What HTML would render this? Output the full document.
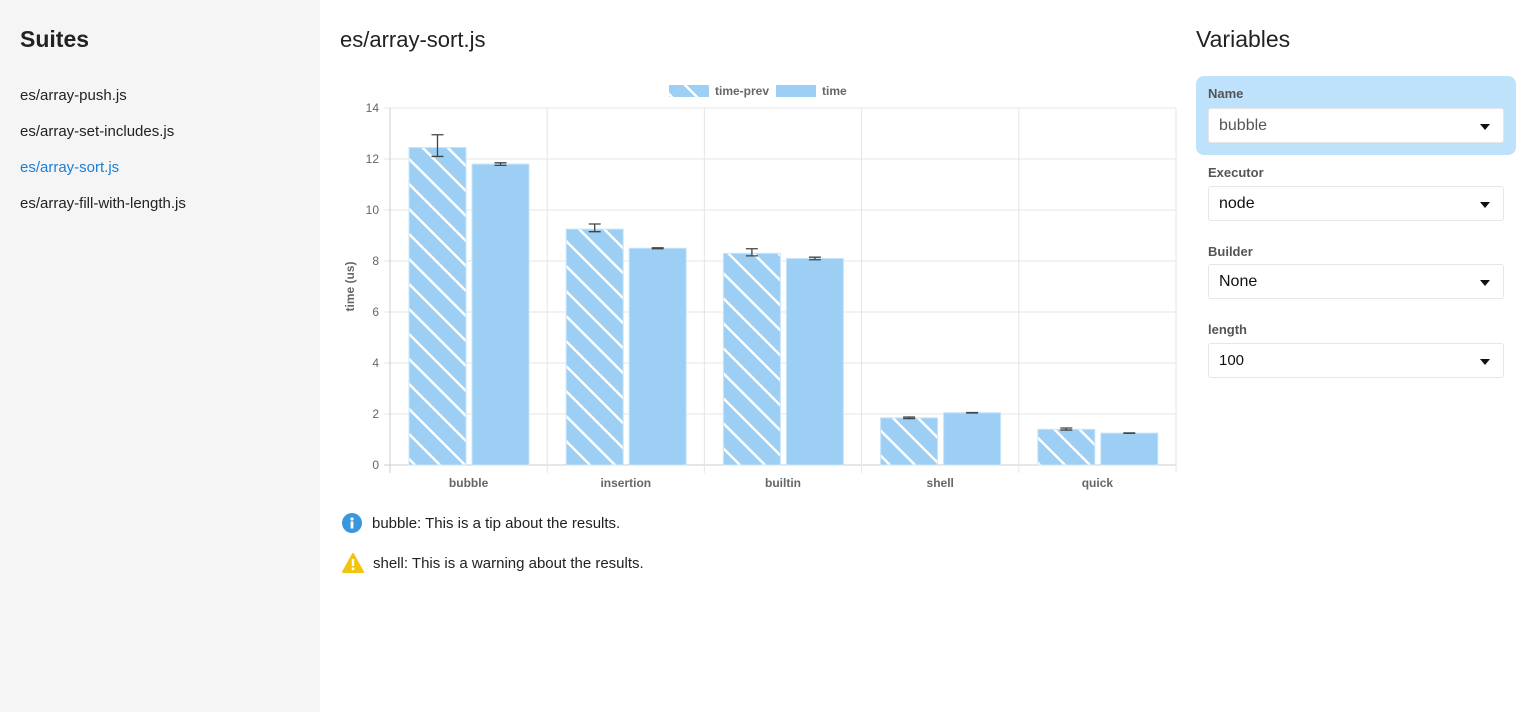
<!DOCTYPE html>
<html><head><meta charset="utf-8">
<style>
body{margin:0;width:1536px;height:712px;font-family:"Liberation Sans",sans-serif;background:#fff;position:relative;overflow:hidden;color:#222}
#side{position:absolute;left:0;top:0;width:320px;height:712px;background:#f5f5f5}
#side h2{position:absolute;left:20px;top:26px;margin:0;font-size:23px;font-weight:bold;color:#222}
.link{position:absolute;left:20px;font-size:15px;color:#222}
h1{position:absolute;left:340px;top:27px;margin:0;font-size:22px;font-weight:normal;color:#222}
#vars{position:absolute;left:1196px;top:26px;margin:0;font-size:23px;font-weight:normal}
.grp{position:absolute;left:1196px;width:320px;border-radius:8px}
.lbl{position:absolute;left:12px;font-size:13px;font-weight:bold;color:#555}
.sel{position:absolute;left:12px;width:296px;height:35px;background:#fff;border:1px solid #e6e6e6;border-radius:3px;box-sizing:border-box;font-size:16px;padding-left:10px;line-height:34px}
.sel:after{content:"";position:absolute;right:13px;top:15px;border-left:5px solid transparent;border-right:5px solid transparent;border-top:6px solid #111}
.note{position:absolute;left:342px;font-size:15px;color:#222;display:flex;align-items:center}
</style></head><body>
<div id="side">
<h2>Suites</h2>
<div class="link" style="top:87px">es/array-push.js</div>
<div class="link" style="top:123px">es/array-set-includes.js</div>
<div class="link" style="top:159px;color:#1a7fd6">es/array-sort.js</div>
<div class="link" style="top:195px">es/array-fill-with-length.js</div>
</div>
<h1>es/array-sort.js</h1>
<svg id="chart" style="position:absolute;left:0;top:0" width="1536" height="712">
<defs><pattern id="hatch" patternUnits="userSpaceOnUse" width="25" height="25"><rect width="25" height="25" fill="#9dcff4"/><path d="M-5,-5 L30,30 M-5,20 L5,30 M20,-5 L30,5" stroke="#fff" stroke-width="2.5"/></pattern></defs>
</svg>
<div class="note" style="top:513px"><svg width="20" height="20"><circle cx="10" cy="10" r="10" fill="#3a97dc"/><circle cx="10" cy="6" r="1.6" fill="#fff"/><rect x="8.6" y="8.5" width="2.8" height="7" fill="#fff"/></svg><span style="margin-left:10px">bubble: This is a tip about the results.</span></div>
<div class="note" style="top:553px"><svg width="22" height="20"><path d="M11,1 L21,19 L1,19 Z" fill="#f1c40f" stroke="#f1c40f" stroke-width="2" stroke-linejoin="round"/><rect x="9.8" y="6" width="2.4" height="7" fill="#fff"/><circle cx="11" cy="15.8" r="1.4" fill="#fff"/></svg><span style="margin-left:9px">shell: This is a warning about the results.</span></div>
<h2 id="vars">Variables</h2>
<div class="grp" style="top:76px;height:79px;background:#bfe2fc"><div class="lbl" style="top:10px">Name</div><div class="sel" style="top:32px;color:#555">bubble</div></div>
<div class="grp" style="top:155px;height:79px"><div class="lbl" style="top:10px">Executor</div><div class="sel" style="top:31px;color:#111">node</div></div>
<div class="grp" style="top:234px;height:79px"><div class="lbl" style="top:10px">Builder</div><div class="sel" style="top:30px;color:#111">None</div></div>
<div class="grp" style="top:313px;height:79px"><div class="lbl" style="top:9px">length</div><div class="sel" style="top:30px;color:#111;font-size:15px">100</div></div>
<script>
const categories=["bubble","insertion","builtin","shell","quick"];
const prevValues=[12.45,9.25,8.3,1.85,1.4];
const prevLow=[12.1,9.15,8.2,1.82,1.37];
const prevHigh=[12.95,9.45,8.48,1.88,1.45];
const timeValues=[11.8,8.5,8.1,2.05,1.25];
const timeLow=[11.75,8.48,8.05,2.04,1.24];
const timeHigh=[11.85,8.52,8.15,2.06,1.26];
const yTicks=[0,2,4,6,8,10,12,14];
const svg=document.getElementById('chart');const NS="http://www.w3.org/2000/svg";
const X0=390,X1=1176,Y0=465,Y1=108,YMAX=14;
const y=v=>Y0-(v/YMAX)*(Y0-Y1);
const bw=(X1-X0)/categories.length;
const x=i=>X0+i*bw;
function el(t,a,txt){const e=document.createElementNS(NS,t);for(const k in a)e.setAttribute(k,a[k]);if(txt!==undefined)e.textContent=txt;svg.appendChild(e);return e;}
yTicks.forEach(t=>{const g=el('line',{x1:X0-6,x2:X1,y1:y(t),y2:y(t),stroke:t===0?'#ccc':'#e5e5e5'});


const l=el('text',{x:X0-11,y:y(t)+4,'text-anchor':'end','font-size':12,fill:'#666'},t);

});
for(let i=0;i<=categories.length;i++){const g=el('line',{x1:x(i),x2:x(i),y1:Y1,y2:Y0+8,stroke:i===0?'#ccc':'#e5e5e5'});

}
function err(cx,lo,hi){const p=el('path',{d:`M${cx},${y(hi)}V${y(lo)}M${cx-6},${y(hi)}H${cx+6}M${cx-6},${y(lo)}H${cx+6}`,stroke:'#444','stroke-width':1.3,fill:'none'});

}
categories.forEach((c,i)=>{const bx=x(i)+19,w=57;
const a=el('rect',{x:bx,y:y(prevValues[i]),width:w,height:Y0-y(prevValues[i]),fill:'url(#hatch)',stroke:'#c8e4f9','stroke-width':1});


const b=el('rect',{x:bx+w+6,y:y(timeValues[i]),width:w,height:Y0-y(timeValues[i]),fill:'#9dcff4',stroke:'#c8e4f9','stroke-width':1});


err(bx+w/2,prevLow[i],prevHigh[i]);err(bx+w*1.5+6,timeLow[i],timeHigh[i]);
const l=el('text',{x:x(i)+bw/2,y:487,'text-anchor':'middle','font-size':12,'font-weight':'bold',fill:'#666'},c);

});
const yt=el('text',{transform:`translate(354,${(Y0+Y1)/2}) rotate(-90)`,'text-anchor':'middle','font-size':12,'font-weight':'bold',fill:'#666'},'time (us)');


const l1=el('rect',{x:669,y:85,width:40,height:12,fill:'url(#hatch)'});


const t1=el('text',{x:715,y:95,'font-size':12,'font-weight':'bold',fill:'#666'},'time-prev');


const l2=el('rect',{x:776,y:85,width:40,height:12,fill:'#9dcff4'});


const t2=el('text',{x:822,y:95,'font-size':12,'font-weight':'bold',fill:'#666'},'time');


</script>
</body></html>
